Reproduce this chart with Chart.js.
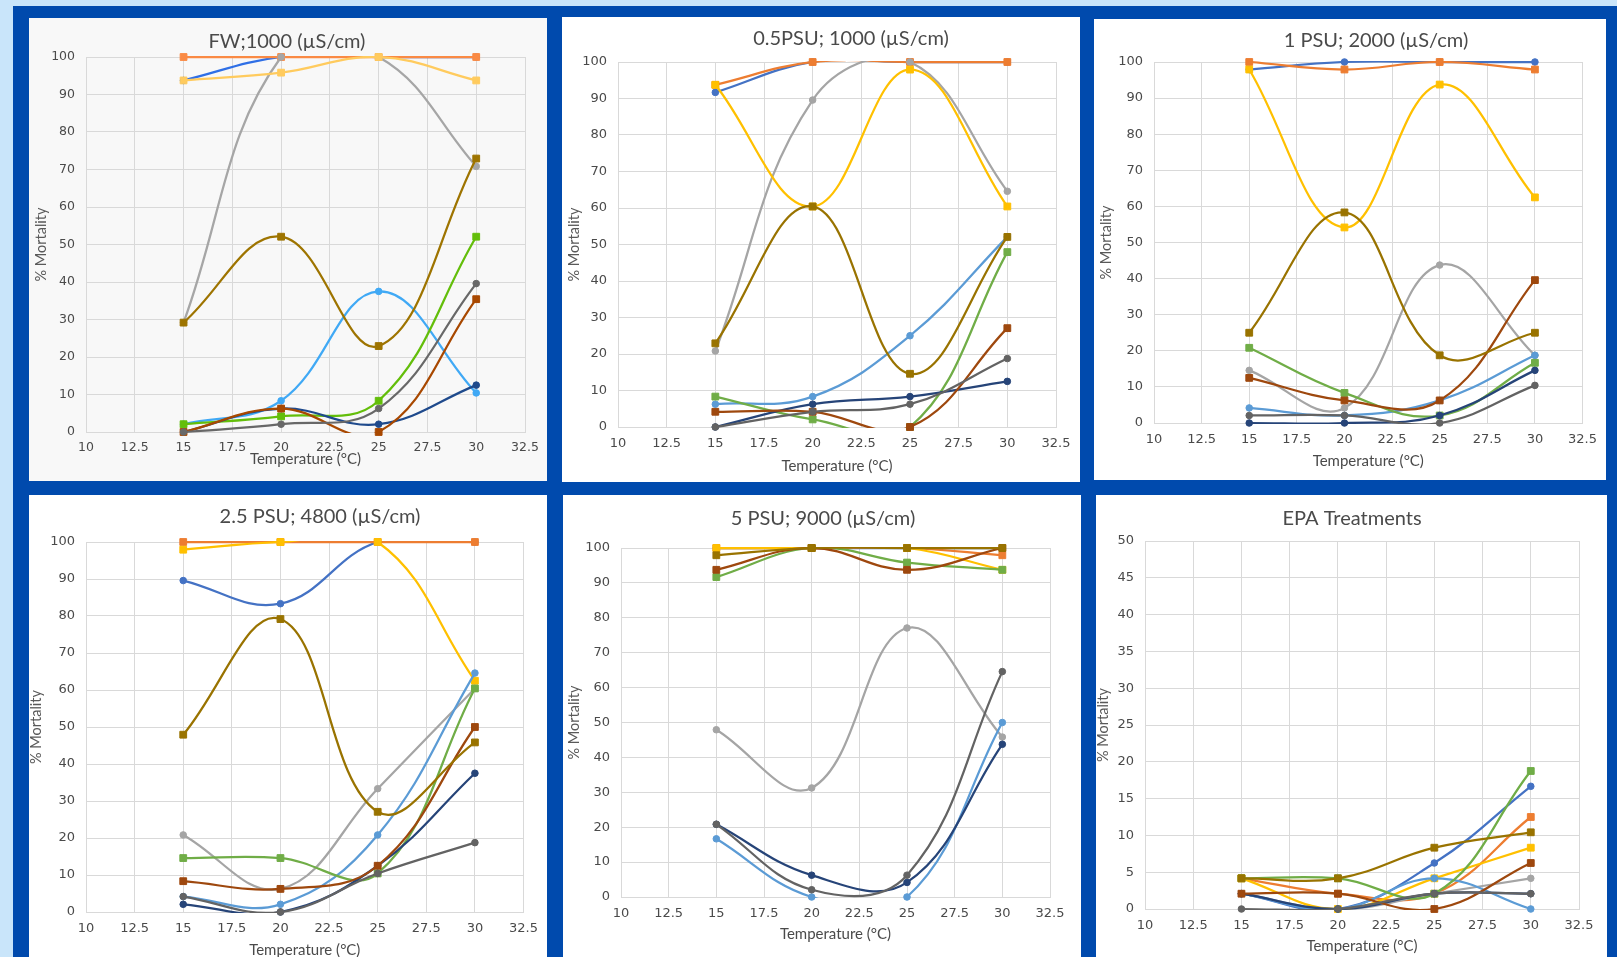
<!DOCTYPE html>
<html>
<head>
<meta charset="utf-8">
<script src="https://cdn.jsdelivr.net/npm/chart.js@4.4.0/dist/chart.umd.min.js"></script>
<style>
  html, body { margin: 0; padding: 0; width: 1617px; height: 957px; overflow: hidden; background: #c9e5fa; }
  #frame { position: absolute; left: 13px; top: 6px; right: 0; bottom: 0; background: #004aad; }
  .panel { position: absolute; background: #fff; overflow: hidden; }
  .panel canvas { display: block; }
</style>
</head>
<body>
<div id="frame"></div>
<script>
// x values (temperature, °C) and tick labels
const temps = [15, 20, 25, 30];
const tempTicks = [10, 12.5, 15, 17.5, 20, 22.5, 25, 27.5, 30, 32.5];
const mortTicks = [0, 10, 20, 30, 40, 50, 60, 70, 80, 90, 100];
const epaTicks = [0, 5, 10, 15, 20, 25, 30, 35, 40, 45, 50];

const seriesNames = ['Series 1', 'Series 2', 'Series 3', 'Series 4', 'Series 5',
                     'Series 6', 'Series 7', 'Series 8', 'Series 9', 'Series 10'];

// % mortality at 15, 20, 25, 30 °C, one row per series
const fwData = [
  [93.75, 100, 100, 100],
  [100, 100, 100, 100],
  [29.17, 100, 100, 70.83],
  [93.75, 95.83, 100, 93.75],
  [2.08, 8.33, 37.5, 10.42],
  [2.08, 4.17, 8.33, 52.08],
  [0, 6.25, 2.08, 12.5],
  [0, 6.25, 0, 35.42],
  [0, 2.08, 6.25, 39.58],
  [29.17, 52.08, 22.92, 72.92]
];
const psu05Data = [
  [91.67, 100, 100, 100],
  [93.75, 100, 100, 100],
  [20.83, 89.58, 100, 64.58],
  [93.75, 60.42, 97.92, 60.42],
  [6.25, 8.33, 25, 52.08],
  [8.33, 2.08, 0, 47.92],
  [0, 6.25, 8.33, 12.5],
  [4.17, 4.17, 0, 27.08],
  [0, 4.17, 6.25, 18.75],
  [22.92, 60.42, 14.58, 52.08]
];
const psu1Data = [
  [97.92, 100, 100, 100],
  [100, 97.92, 100, 97.92],
  [14.58, 4.17, 43.75, 18.75],
  [97.92, 54.17, 93.75, 62.5],
  [4.17, 2.08, 6.25, 18.75],
  [20.83, 8.33, 2.08, 16.67],
  [0, 0, 2.08, 14.58],
  [12.5, 6.25, 6.25, 39.58],
  [2.08, 2.08, 0, 10.42],
  [25, 58.33, 18.75, 25]
];
const psu25Data = [
  [89.58, 83.33, 100, 100],
  [100, 100, 100, 100],
  [20.83, 6.25, 33.33, 60.42],
  [97.92, 100, 100, 62.5],
  [4.17, 2.08, 20.83, 64.58],
  [14.58, 14.58, 10.42, 60.42],
  [2.08, 0, 12.5, 37.5],
  [8.33, 6.25, 12.5, 50],
  [4.17, 0, 10.42, 18.75],
  [47.92, 79.17, 27.08, 45.83]
];
const psu5Data = [
  [100, 100, 100, 100],
  [100, 100, 100, 97.92],
  [47.92, 31.25, 77.08, 45.83],
  [100, 100, 100, 93.75],
  [16.67, 0, 0, 50],
  [91.67, 100, 95.83, 93.75],
  [20.83, 6.25, 4.17, 43.75],
  [93.75, 100, 93.75, 100],
  [20.83, 2.08, 6.25, 64.58],
  [97.92, 100, 100, 100]
];
const epaData = [
  [2.08, 0, 6.25, 16.67],
  [4.17, 2.08, 2.08, 12.5],
  [2.08, 0, 2.08, 4.17],
  [4.17, 0, 4.17, 8.33],
  [2.08, 0, 4.17, 0],
  [4.17, 4.17, 2.08, 18.75],
  [2.08, 0, 2.08, 2.08],
  [2.08, 2.08, 0, 6.25],
  [0, 0, 2.08, 2.08],
  [4.17, 4.17, 8.33, 10.42]
];

const officeColors = ['#4472C4', '#ED7D31', '#A5A5A5', '#FFC000', '#5B9BD5',
                      '#70AD47', '#264478', '#9E480E', '#636363', '#997300'];
const fwColors = ['#2F6FE6', '#FA8A44', '#A6A6A6', '#FFCB5E', '#40A9F5',
                  '#63BE0A', '#1F4A8C', '#A84800', '#686868', '#9E7400'];
const markers = ['circle', 'rect', 'circle', 'rect', 'circle', 'rect', 'circle', 'rect', 'circle', 'rect'];

// panel box + plot area (px, relative to the panel)
const panels = [
  { title: 'FW;1000 (µS/cm)', data: fwData, colors: fwColors, ticks: mortTicks, bg: '#f8f8f8', font: 12.5, xpad: 8,
    x: 29, y: 18, w: 518, h: 463, L: 57, R: 496, T: 39, B: 414, tx: 258, ty: 24, xt: 441, yt: 12 },
  { title: '0.5PSU; 1000 (µS/cm)', data: psu05Data, colors: officeColors, ticks: mortTicks, bg: '#fff', font: 13, xpad: 9,
    x: 562, y: 17, w: 518, h: 465, L: 56, R: 494, T: 45, B: 410, tx: 289, ty: 22, xt: 449, yt: 12 },
  { title: '1 PSU; 2000 (µS/cm)', data: psu1Data, colors: officeColors, ticks: mortTicks, bg: '#fff', font: 13, xpad: 9,
    x: 1094, y: 19, w: 512, h: 461, L: 60, R: 489, T: 43, B: 404, tx: 282, ty: 22, xt: 442, yt: 12 },
  { title: '2.5 PSU; 4800 (µS/cm)', data: psu25Data, colors: officeColors, ticks: mortTicks, bg: '#fff', font: 13, xpad: 9,
    x: 29, y: 495, w: 518, h: 470, L: 57, R: 495, T: 47, B: 417, tx: 291, ty: 22, xt: 455, yt: 6 },
  { title: '5 PSU; 9000 (µS/cm)', data: psu5Data, colors: officeColors, ticks: mortTicks, bg: '#fff', font: 13, xpad: 9,
    x: 563, y: 495, w: 518, h: 470, L: 58, R: 487, T: 53, B: 402, tx: 260, ty: 24, xt: 439, yt: 11 },
  { title: 'EPA Treatments', data: epaData, colors: officeColors, ticks: epaTicks, bg: '#fff', font: 13, xpad: 9,
    x: 1096, y: 495, w: 511, h: 470, L: 49, R: 483, T: 46, B: 414, tx: 256, ty: 24, xt: 451, yt: 7 }
];

const textFont = 'Lato, "Open Sans", sans-serif';
const tickFont = '"DejaVu Sans", Verdana, sans-serif';
Chart.defaults.font.family = textFont;
Chart.defaults.color = '#595959';

const panelTitle = {
  id: 'panelTitle',
  afterDraw(chart, args, opts) {
    const ctx = chart.ctx;
    ctx.save();
    ctx.font = '20px ' + textFont;
    ctx.fillStyle = '#4a4a4a';
    ctx.textAlign = 'center';
    ctx.textBaseline = 'middle';
    ctx.fillText(opts.text, opts.x, opts.y);
    ctx.restore();
  }
};

const grid = '#d9d9d9';

panels.forEach(p => {
  const div = document.createElement('div');
  div.className = 'panel';
  Object.assign(div.style, { left: p.x + 'px', top: p.y + 'px', width: p.w + 'px', height: p.h + 'px', background: p.bg });
  const canvas = document.createElement('canvas');
  canvas.width = p.w;
  canvas.height = p.h;
  div.appendChild(canvas);
  document.body.appendChild(div);

  const datasets = [];
  p.data.forEach((vals, i) => {
    const pts = vals.map((v, j) => ({ x: temps[j], y: v }));
    datasets.push({
      label: seriesNames[i],
      data: pts,
      borderColor: p.colors[i],
      borderWidth: 2.25,
      pointRadius: 0,
      tension: 0.4,
      capBezierPoints: false,
      clip: { left: 0, right: 0, top: 1, bottom: 1 },
      order: 100 - 2 * i
    });
    datasets.push({
      label: seriesNames[i] + ' markers',
      data: pts,
      showLine: false,
      pointStyle: markers[i],
      pointRadius: markers[i] === 'rect' ? 4.8 : 3.3,
      pointBorderWidth: 1,
      pointBackgroundColor: p.colors[i],
      pointBorderColor: p.colors[i],
      clip: false,
      order: 99 - 2 * i
    });
  });

  const yMax = p.ticks[p.ticks.length - 1];

  new Chart(canvas, {
    type: 'line',
    data: { datasets },
    plugins: [panelTitle],
    options: {
      responsive: false,
      animation: false,
      events: [],
      layout: { padding: { left: 0, top: p.T, right: p.w - p.R, bottom: 0 } },
      plugins: {
        legend: { display: false },
        tooltip: { enabled: false },
        panelTitle: { text: p.title, x: p.tx, y: p.ty }
      },
      scales: {
        x: {
          type: 'linear',
          min: tempTicks[0],
          max: tempTicks[tempTicks.length - 1],
          afterBuildTicks: s => { s.ticks = tempTicks.map(v => ({ value: v })); },
          afterFit: s => { s.height = p.h - p.B; },
          ticks: { font: { family: tickFont, size: p.font }, color: '#4a4a4a', padding: p.xpad, maxRotation: 0, autoSkip: false },
          grid: { color: grid, drawTicks: false },
          border: { color: grid },
          title: {
            display: true, text: 'Temperature (°C)', color: '#4a4a4a',
            font: { size: 15 },
            padding: { top: 0, bottom: Math.max(0, p.h - p.xt - 9) }
          }
        },
        y: {
          type: 'linear',
          min: 0,
          max: yMax,
          afterBuildTicks: s => { s.ticks = p.ticks.map(v => ({ value: v })); },
          afterFit: s => { s.width = p.L; },
          ticks: { font: { family: tickFont, size: p.font }, color: '#4a4a4a', padding: 11 },
          grid: { color: grid, drawTicks: false },
          border: { color: grid },
          title: {
            display: true, text: '% Mortality', color: '#595959',
            font: { size: 14.5, lineHeight: 1 },
            padding: { top: Math.max(0, p.yt - 7.25), bottom: 0 }
          }
        }
      }
    }
  });
});
</script>
</body>
</html>
